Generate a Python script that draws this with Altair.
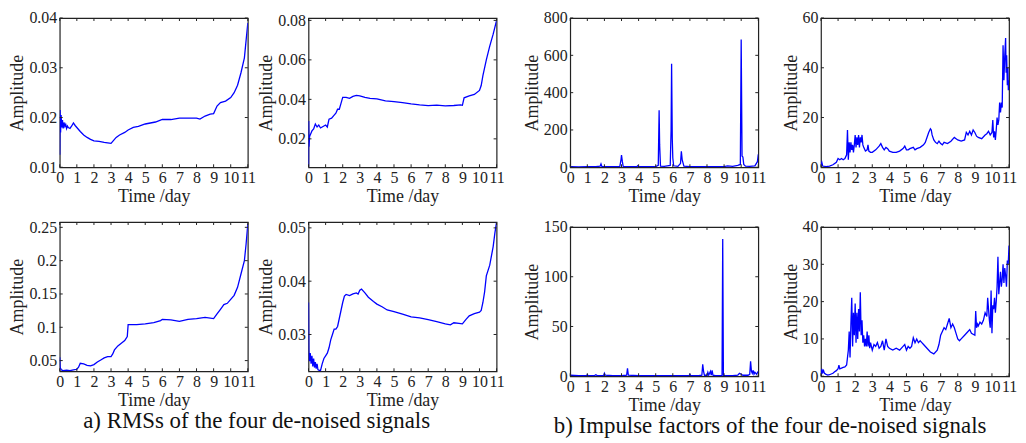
import altair as alt
import pandas as pd

# ---------------- data ----------------
XTICKS = [0, 1, 2, 3, 4, 5, 6, 7, 8, 9, 10, 11]

# a) RMS 1
t1 = [0, 0.02, 0.05, 0.08, 0.12, 0.16, 0.2, 0.25, 0.3, 0.35,
      0.4, 0.45, 0.5, 0.6, 0.7, 0.8, 0.9, 1.0, 1.2, 1.4,
      1.6, 1.8, 2.0, 2.3, 2.6, 2.8, 3.0, 3.1, 3.3, 3.5,
      3.8, 4.0, 4.3, 4.6, 5.0, 5.3, 5.6, 6.0, 6.5, 7.0,
      7.5, 8.0, 8.2, 8.5, 8.8, 9.0, 9.2, 9.4, 9.7, 10.0,
      10.2, 10.4, 10.6, 10.8, 10.9, 11.0]
v1 = [0.0125, 0.0215, 0.017, 0.0205, 0.018, 0.0195, 0.0178, 0.019, 0.0182, 0.0186,
      0.0178, 0.0183, 0.0180, 0.0178, 0.0183, 0.0189, 0.0184, 0.0180, 0.0172, 0.0165,
      0.0160, 0.0156, 0.0153, 0.0152, 0.0150, 0.0149, 0.0148, 0.0152, 0.0160, 0.0165,
      0.0170, 0.0175, 0.0180, 0.0182, 0.0187, 0.0189, 0.0191, 0.0196, 0.0196, 0.0199,
      0.0199, 0.0199, 0.0197, 0.0203, 0.0207, 0.0208, 0.0223, 0.0230, 0.0233, 0.0240,
      0.0250, 0.0265, 0.0290, 0.0320, 0.0355, 0.0390]

# a) RMS 2
t2 = [0, 0.01, 0.03, 0.06, 0.1, 0.15, 0.2, 0.3, 0.4, 0.5,
      0.6, 0.7, 0.8, 0.9, 1.0, 1.1, 1.2, 1.35, 1.5, 1.6,
      1.7, 1.8, 1.9, 2.0, 2.2, 2.4, 2.6, 2.8, 3.0, 3.3,
      3.6, 4.0, 4.5, 5.0, 5.5, 6.0, 6.5, 7.0, 7.5, 8.0,
      8.5, 8.9, 9.0, 9.1, 9.4, 9.7, 10.0, 10.1, 10.2, 10.4,
      10.6, 10.8, 11.0]
v2 = [0.0056, 0.029, 0.016, 0.021, 0.022, 0.023, 0.024, 0.025, 0.0275, 0.026,
      0.027, 0.0255, 0.026, 0.0265, 0.027, 0.026, 0.030, 0.0305, 0.032, 0.033,
      0.035, 0.035, 0.038, 0.041, 0.041, 0.0405, 0.0415, 0.042, 0.0418, 0.041,
      0.0405, 0.0402, 0.0392, 0.0388, 0.0383, 0.0377, 0.0372, 0.0368, 0.0371, 0.0367,
      0.0369, 0.0372, 0.0370, 0.0408, 0.0418, 0.0425, 0.0445, 0.047, 0.052, 0.060,
      0.067, 0.073, 0.080]

# a) RMS 3
t3 = [0, 0.02, 0.1, 0.2, 0.4, 0.6, 0.8, 1.0, 1.1, 1.2,
      1.4, 1.6, 1.8, 2.0, 2.2, 2.4, 2.6, 2.8, 3.0, 3.1,
      3.2, 3.4, 3.6, 3.8, 3.95, 4.0, 4.5, 5.0, 5.5, 5.9,
      6.0, 6.5, 7.0, 7.5, 8.0, 8.5, 9.0, 9.2, 9.4, 9.6,
      9.8, 10.0, 10.2, 10.4, 10.6, 10.8, 10.9, 11.0]
v3 = [0.055, 0.040, 0.036, 0.035, 0.0355, 0.035, 0.036, 0.037, 0.040, 0.046,
      0.045, 0.043, 0.042, 0.044, 0.048, 0.051, 0.054, 0.056, 0.056, 0.060,
      0.066, 0.072, 0.076, 0.080, 0.086, 0.104, 0.104, 0.105, 0.107, 0.110,
      0.112, 0.111, 0.109, 0.112, 0.113, 0.115, 0.113, 0.120, 0.127, 0.134,
      0.136, 0.142, 0.148, 0.160, 0.180, 0.200, 0.225, 0.255]

# a) RMS 4
t4 = [0, 0.02, 0.05, 0.1, 0.15, 0.2, 0.25, 0.3, 0.35, 0.4,
      0.45, 0.5, 0.55, 0.6, 0.7, 0.8, 0.9, 1.0, 1.1, 1.2,
      1.3, 1.4, 1.5, 1.6, 1.7, 1.8, 1.9, 2.0, 2.1, 2.2,
      2.4, 2.6, 2.8, 2.9, 3.0, 3.1, 3.3, 3.5, 3.8, 4.0,
      4.3, 4.6, 5.0, 5.5, 6.0, 6.5, 7.0, 7.5, 8.0, 8.3,
      8.5, 8.8, 9.0, 9.2, 9.4, 9.7, 10.0, 10.1, 10.2, 10.3,
      10.4, 10.6, 10.8, 10.9, 11.0]
v4 = [0.036, 0.027, 0.025, 0.0265, 0.0245, 0.026, 0.024, 0.0255, 0.0238, 0.0248,
      0.0236, 0.0245, 0.0234, 0.0233, 0.0232, 0.0245, 0.0255, 0.026, 0.0265, 0.0275,
      0.029, 0.030, 0.031, 0.031, 0.0315, 0.033, 0.0345, 0.036, 0.0372, 0.0375,
      0.0373, 0.0376, 0.0378, 0.0376, 0.0383, 0.0385, 0.0378, 0.0370, 0.0362, 0.0357,
      0.0352, 0.0346, 0.0343, 0.0338, 0.0333, 0.0331, 0.0328, 0.0324, 0.0320, 0.0318,
      0.0322, 0.0321, 0.0320, 0.0328, 0.0335, 0.0339, 0.0342, 0.0345, 0.0360, 0.0380,
      0.0410, 0.0430, 0.0465, 0.0490, 0.0511]

# b) Impulse factor 1
t5 = [0, 0.5, 1.0, 1.5, 1.75, 1.8, 1.85, 2.2, 2.5, 2.9,
      2.97, 3.0, 3.05, 3.1, 3.5, 3.9, 3.95, 4.0, 4.5, 5.0,
      5.15, 5.2, 5.23, 5.28, 5.5, 5.85, 5.9, 5.93, 5.97, 6.0,
      6.05, 6.3, 6.45, 6.5, 6.55, 6.65, 7.0, 7.5, 8.0, 8.5,
      9.0, 9.2, 9.5, 9.8, 9.95, 10.0, 10.05, 10.1, 10.15, 10.25,
      10.5, 10.8, 10.95, 11.0]
v5 = [3, 2, 3, 4, 6, 18, 5, 3, 3, 4,
      40, 65, 30, 4, 3, 3, 8, 3, 3, 4,
      10, 305, 120, 6, 5, 10, 200, 555, 150, 50,
      8, 5, 20, 85, 40, 6, 4, 3, 3, 3,
      4, 8, 5, 10, 15, 685, 60, 55, 15, 6,
      5, 8, 30, 70]

# b) Impulse factor 2
t6 = [0, 0.05, 0.1, 0.3, 0.5, 0.7, 0.9, 1.0, 1.1, 1.2,
      1.3, 1.4, 1.5, 1.55, 1.6, 1.65, 1.7, 1.75, 1.8, 1.85,
      1.9, 1.95, 2.0, 2.05, 2.1, 2.15, 2.2, 2.25, 2.3, 2.35,
      2.4, 2.45, 2.5, 2.6, 2.7, 2.75, 2.8, 2.9, 3.0, 3.2,
      3.4, 3.5, 3.6, 3.7, 3.8, 3.9, 4.0, 4.2, 4.4, 4.6,
      4.8, 4.9, 5.0, 5.1, 5.2, 5.4, 5.5, 5.6, 5.8, 6.0,
      6.1, 6.2, 6.3, 6.4, 6.45, 6.5, 6.6, 6.7, 6.8, 6.9,
      7.0, 7.1, 7.2, 7.4, 7.6, 7.8, 7.9, 8.0, 8.2, 8.4,
      8.5, 8.6, 8.7, 8.8, 8.9, 9.0, 9.1, 9.2, 9.4, 9.6,
      9.7, 9.8, 9.9, 10.0, 10.05, 10.1, 10.15, 10.2, 10.25, 10.3,
      10.35, 10.4, 10.45, 10.5, 10.55, 10.6, 10.65, 10.7, 10.75, 10.8,
      10.83, 10.86, 10.9, 10.93, 10.96, 11.0]
v6 = [1, 2, 0.5, 0.3, 0.5, 1, 2, 3.5, 3, 3.5,
      3, 3.5, 5, 15, 3, 10, 6, 10, 7, 9,
      6, 9, 13, 8, 12, 9, 13, 8, 12, 10,
      13, 9, 8, 6.5, 7, 9, 6.5, 6, 6, 7,
      8.5, 9.5, 8, 7, 8, 7.5, 6.5, 6, 6, 6.5,
      7.5, 8.5, 7, 7, 7.5, 8, 7, 7.5, 8, 9,
      10, 12, 14, 15.5, 15, 13, 11, 10, 9.5, 10.5,
      9.5, 9, 10, 9.5, 10.5, 12, 11.5, 11, 10.5, 11,
      14, 13, 14.5, 13, 15, 14, 12.5, 12, 11.5, 13,
      13.5, 14.5, 13, 14, 19, 12, 14.5, 11, 15, 20,
      17, 19, 26, 22, 26, 24, 49, 35, 45, 52,
      38, 45, 33, 40, 31, 35]

# b) Impulse factor 3
t7 = [0, 0.5, 0.95, 1.0, 1.05, 1.4, 1.5, 1.6, 1.95, 2.0,
      2.05, 2.5, 3.0, 3.3, 3.35, 3.4, 4.0, 5.0, 6.0, 6.95,
      7.0, 7.05, 7.5, 7.7, 7.75, 7.8, 7.85, 8.0, 8.05, 8.1,
      8.2, 8.25, 8.3, 8.35, 8.5, 8.88, 8.92, 8.96, 9.0, 9.5,
      9.8, 9.9, 10.0, 10.1, 10.4, 10.5, 10.55, 10.6, 10.65, 10.7,
      10.75, 10.8, 10.9, 11.0]
v7 = [1, 0.5, 0.5, 1.5, 0.5, 0.5, 1.5, 0.5, 0.5, 3,
      1, 0.5, 0.5, 1, 8, 1, 0.5, 0.5, 0.5, 0.5,
      2, 0.5, 0.5, 1, 12, 5, 1, 1, 4, 1,
      5, 1, 6, 1, 0.5, 0.5, 138, 1, 0.5, 0.5,
      1, 3, 2, 1, 1, 2, 15, 5, 3, 6,
      2, 4, 2, 5]

# b) Impulse factor 4
t8 = [0, 0.05, 0.1, 0.15, 0.2, 0.3, 0.4, 0.5, 0.6, 0.7,
      0.8, 0.9, 1.0, 1.05, 1.1, 1.2, 1.3, 1.4, 1.5, 1.55,
      1.6, 1.65, 1.7, 1.75, 1.8, 1.85, 1.9, 1.95, 2.0, 2.05,
      2.1, 2.15, 2.2, 2.25, 2.3, 2.35, 2.4, 2.45, 2.5, 2.55,
      2.6, 2.65, 2.7, 2.75, 2.8, 2.85, 2.9, 3.0, 3.1, 3.2,
      3.3, 3.4, 3.5, 3.6, 3.7, 3.8, 3.9, 4.0, 4.2, 4.4,
      4.6, 4.8, 4.9, 5.0, 5.1, 5.2, 5.3, 5.4, 5.5, 5.6,
      5.7, 5.8, 5.9, 6.0, 6.2, 6.4, 6.6, 6.8, 6.9, 7.0,
      7.1, 7.2, 7.3, 7.4, 7.5, 7.6, 7.7, 7.8, 7.9, 8.0,
      8.1, 8.2, 8.4, 8.6, 8.7, 8.8, 9.0, 9.05, 9.1, 9.15,
      9.2, 9.3, 9.4, 9.5, 9.6, 9.7, 9.75, 9.8, 9.85, 9.9,
      9.95, 10.0, 10.05, 10.1, 10.15, 10.2, 10.25, 10.3, 10.35, 10.4,
      10.45, 10.5, 10.55, 10.6, 10.65, 10.7, 10.75, 10.8, 10.85, 10.9,
      10.95, 11.0]
v8 = [0.5, 2, 1, 1.5, 0.8, 0.5, 0.3, 0.4, 0.6, 0.8,
      1.2, 1.5, 2, 3, 2, 2.2, 2.4, 2.5, 3, 5,
      7, 12, 5, 14, 21, 8, 17, 11, 19.5, 9,
      17, 10, 18, 12, 22.5, 11, 15, 9, 11, 8,
      10, 8, 12, 8, 11, 7.5, 9, 7, 8.5, 8,
      9, 7.5, 8, 9.5, 7, 10, 8, 7.5, 7, 7.5,
      7, 8, 8.5, 7, 8, 7.5, 8, 10.3, 9, 10,
      9, 9.5, 9, 8.5, 7.5, 6.5, 6, 7, 8.5, 11,
      12, 13, 12.5, 14, 15.5, 13, 14, 13, 11.5, 10,
      9.5, 10, 11, 12, 12.5, 11.5, 11, 17.5, 13, 14,
      13.5, 14.5, 14, 15, 17, 16, 21, 18, 15, 13,
      23, 11.5, 19, 18, 21, 17, 20, 24, 32, 22,
      25, 28, 24, 26, 30, 25, 29, 27, 24, 31,
      30, 35]

# y-axis domains and tick values per panel
ydom1, yt1 = [0.01, 0.04], [0.01, 0.02, 0.03, 0.04]
ydom2, yt2 = [0.0056, 0.0812], [0.02, 0.04, 0.06, 0.08]
ydom3, yt3 = [0.034, 0.258], [0.05, 0.1, 0.15, 0.2, 0.25]
ydom4, yt4 = [0.0231, 0.0511], [0.03, 0.04, 0.05]
ydom5, yt5 = [0, 800], [0, 200, 400, 600, 800]
ydom6, yt6 = [0, 60], [0, 20, 40, 60]
ydom7, yt7 = [0, 150], [0, 50, 100, 150]
ydom8, yt8 = [0, 40], [0, 10, 20, 30, 40]

caption_a = "a) RMSs of the four de-noised signals"
caption_b = "b) Impulse factors of the four de-noised signals"

# ---------------- styling ----------------
W, H = 189, 150
TL = 3
FONT = "Liberation Serif"
INK = "#222222"
BLUE = "#0000ff"


def panel(t, v, ydom, yticks):
    assert len(t) == len(v)
    df = pd.DataFrame({"t": t, "v": v})
    xs = alt.Scale(domain=[0, 11], nice=False, zero=False)
    ys = alt.Scale(domain=ydom, nice=False, zero=False)
    xax = alt.Axis(values=XTICKS, title="Time /day", format="d",
                   labelFlush=False, labelOverlap=False)
    yax = alt.Axis(values=yticks, title="Amplitude", format="~r",
                   labelFlush=False, labelOverlap=False)
    X = alt.X("t:Q", scale=xs, axis=xax)
    Y = alt.Y("v:Q", scale=ys, axis=yax)
    line = alt.Chart(df).mark_line(color=BLUE, strokeWidth=1.3, clip=True).encode(x=X, y=Y)
    xt = pd.DataFrame({"t": XTICKS})
    yt = pd.DataFrame({"v": yticks})
    top = alt.Chart(xt).mark_rule(color=INK, strokeWidth=1).encode(
        x=X, y=alt.value(0), y2=alt.value(TL))
    bot = alt.Chart(xt).mark_rule(color=INK, strokeWidth=1).encode(
        x=X, y=alt.value(H), y2=alt.value(H - TL))
    left = alt.Chart(yt).mark_rule(color=INK, strokeWidth=1).encode(
        y=Y, x=alt.value(0), x2=alt.value(TL))
    right = alt.Chart(yt).mark_rule(color=INK, strokeWidth=1).encode(
        y=Y, x=alt.value(W), x2=alt.value(W - TL))
    return alt.layer(line, top, bot, left, right).properties(width=W, height=H)


def caption(text):
    return alt.TitleParams(text=text, orient="bottom", anchor="middle", font=FONT,
                           fontSize=23, fontWeight="normal", color="#111111", offset=0)


p1 = panel(t1, v1, ydom1, yt1)
p2 = panel(t2, v2, ydom2, yt2)
p3 = panel(t3, v3, ydom3, yt3)
p4 = panel(t4, v4, ydom4, yt4)
p5 = panel(t5, v5, ydom5, yt5)
p6 = panel(t6, v6, ydom6, yt6)
p7 = panel(t7, v7, ydom7, yt7)
p8 = panel(t8, v8, ydom8, yt8)

group_a = alt.vconcat(
    alt.hconcat(p1, p2, spacing=0),
    alt.hconcat(p3, p4, spacing=0),
    spacing=12,
).properties(title=caption(caption_a))

group_b = alt.vconcat(
    alt.hconcat(p5, p6, spacing=14),
    alt.hconcat(p7, p8, spacing=14),
    spacing=12,
).properties(title=caption(caption_b))

chart = alt.hconcat(group_a, group_b, spacing=17).properties(
    padding=0, background="white"
).configure_view(
    stroke=INK, strokeWidth=1.2
).configure_axis(
    domain=False, ticks=False, grid=False,
    labelFont=FONT, labelFontSize=16, labelColor=INK,
    titleFont=FONT, titleFontSize=18, titleFontWeight="normal", titleColor=INK,
).configure_axisX(
    labelPadding=2, titlePadding=2
).configure_axisY(
    labelPadding=3, titlePadding=2
)

chart.save("out.html", embed_options={"renderer": "svg", "actions": False})
